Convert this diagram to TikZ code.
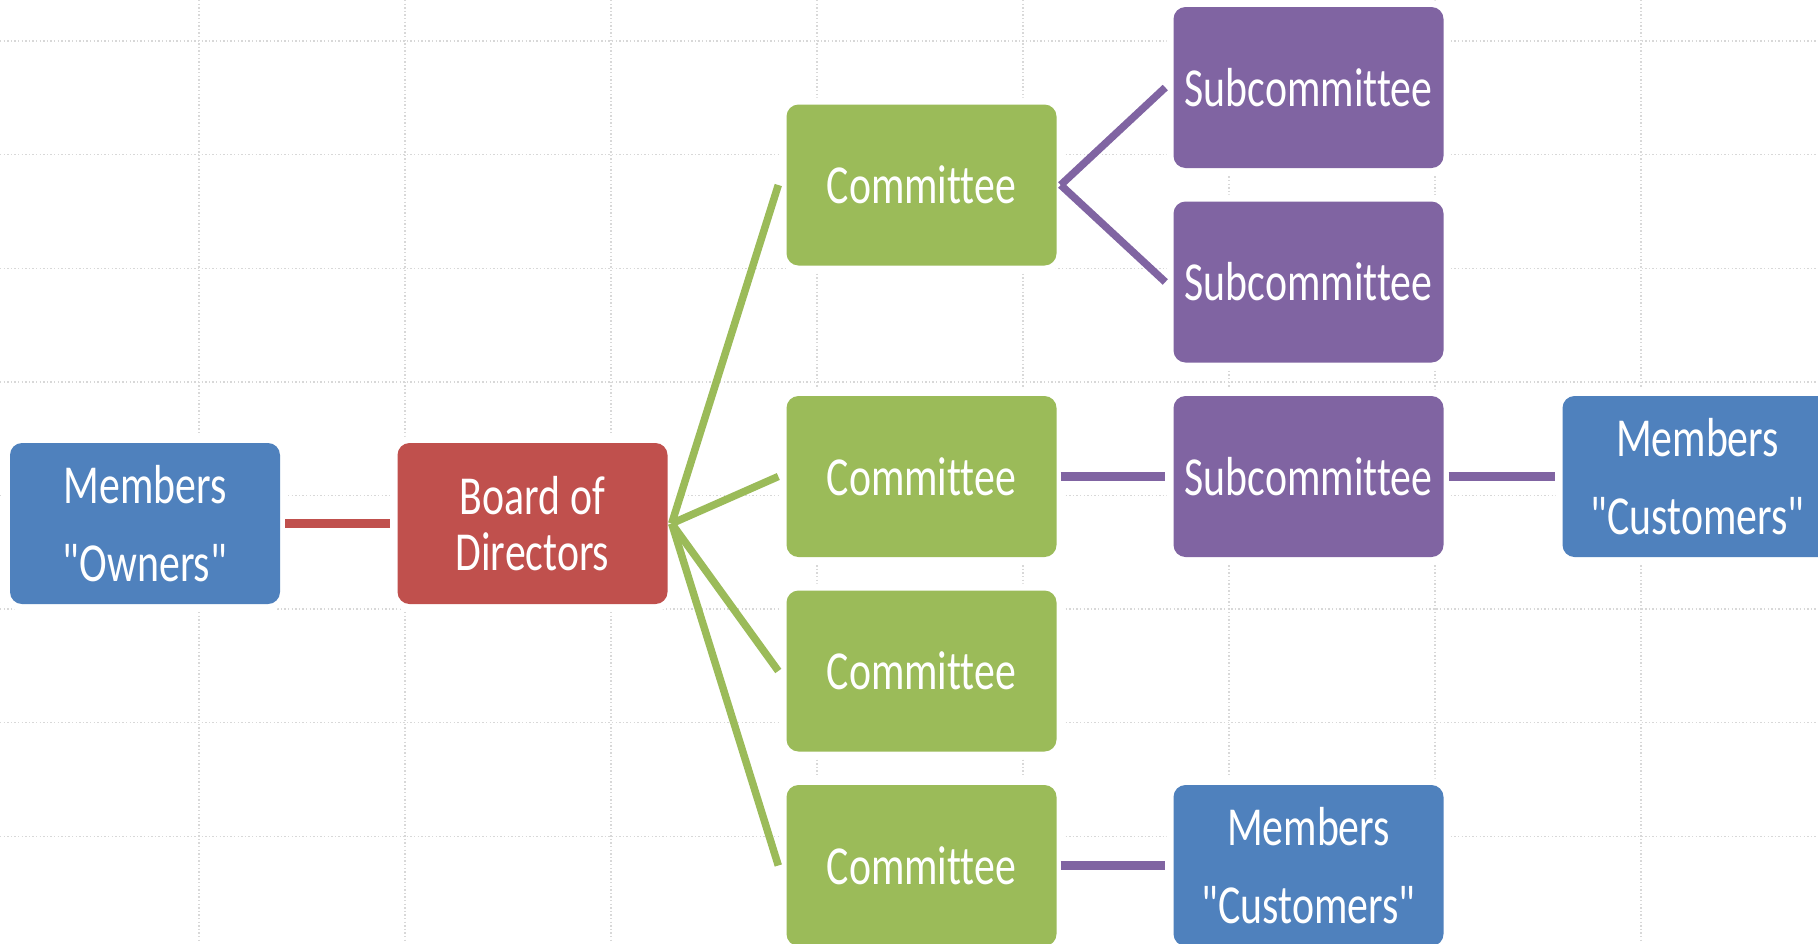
\documentclass[tikz,border=0pt]{standalone}
\usepackage{fontspec}
\newfontfamily\boxfont[FakeStretch=0.76, Ligatures=NoCommon]{Carlito}
\usetikzlibrary{calc}
\definecolor{cblue}{HTML}{4F81BD}
\definecolor{cred}{HTML}{C0504D}
\definecolor{cgreen}{HTML}{9BBB59}
\definecolor{cpurple}{HTML}{8064A2}
\definecolor{cgrid}{HTML}{D8D8D8}
\begin{document}
\begin{tikzpicture}[x=1pt,y=-1pt,
  orgbox/.style={rounded corners=12pt, minimum width=270pt, minimum height=161pt,
    inner sep=0pt, text=white, fill=#1, draw=none,
    font=\boxfont\fontsize{55}{56}\selectfont, align=center,
    preaction={draw=white, line width=14pt}},
  gridline/.style={draw=cgrid, line width=1.4pt, dash pattern=on 1.4pt off 2.2pt},
  hlink/.style={draw=#1, line width=9pt},
  dlink/.style={draw=#1, line width=7.5pt}]
\useasboundingbox (0,0) rectangle (1818,943);
\clip (0,0) rectangle (1818,943);
% background grid
\foreach \k in {0,...,7} {
  \draw[gridline] ({199+206*\k},0) -- ({199+206*\k},943);
  \draw[gridline] (0,{41+113.6*\k}) -- (1818,{41+113.6*\k});
}
% nodes
\node[orgbox=cblue] (owners) at (145,523.5) {Members\\[22pt]"Owners"};
\node[orgbox=cred] (board) at (532.5,523.5) {Board of\\Directors};
\node[orgbox=cgreen] (c1) at (921.5,185) {Committee};
\node[orgbox=cgreen] (c2) at (921.5,476.5) {Committee};
\node[orgbox=cgreen] (c3) at (921.5,671) {Committee};
\node[orgbox=cgreen] (c4) at (921.5,865.5) {Committee};
\node[orgbox=cpurple] (s1) at (1308.5,87.5) {Subcommittee};
\node[orgbox=cpurple] (s2) at (1308.5,282) {Subcommittee};
\node[orgbox=cpurple] (s3) at (1308.5,476.5) {Subcommittee};
\node[orgbox=cblue] (mc1) at (1697.5,476.5) {Members\\[22pt]"Customers"};
\node[orgbox=cblue] (mc2) at (1308.5,865.5) {Members\\[22pt]"Customers"};
% connectors
\draw[hlink=cred] ($(owners.east)+(5,0)$) -- ($(board.west)+(-7,0)$);
\foreach \c in {c1,c2,c3,c4}
  \draw[dlink=cgreen] ($(board.east)+(4,0)$) -- ($(\c.west)+(-8,0)$);
\draw[dlink=cpurple] ($(c1.east)+(4,0)$) -- ($(s1.west)+(-8,0)$);
\draw[dlink=cpurple] ($(c1.east)+(4,0)$) -- ($(s2.west)+(-8,0)$);
\draw[hlink=cpurple] ($(c2.east)+(4,0)$) -- ($(s3.west)+(-8,0)$);
\draw[hlink=cpurple] ($(s3.east)+(5,0)$) -- ($(mc1.west)+(-7,0)$);
\draw[hlink=cpurple] ($(c4.east)+(4,0)$) -- ($(mc2.west)+(-8,0)$);
\end{tikzpicture}
\end{document}
